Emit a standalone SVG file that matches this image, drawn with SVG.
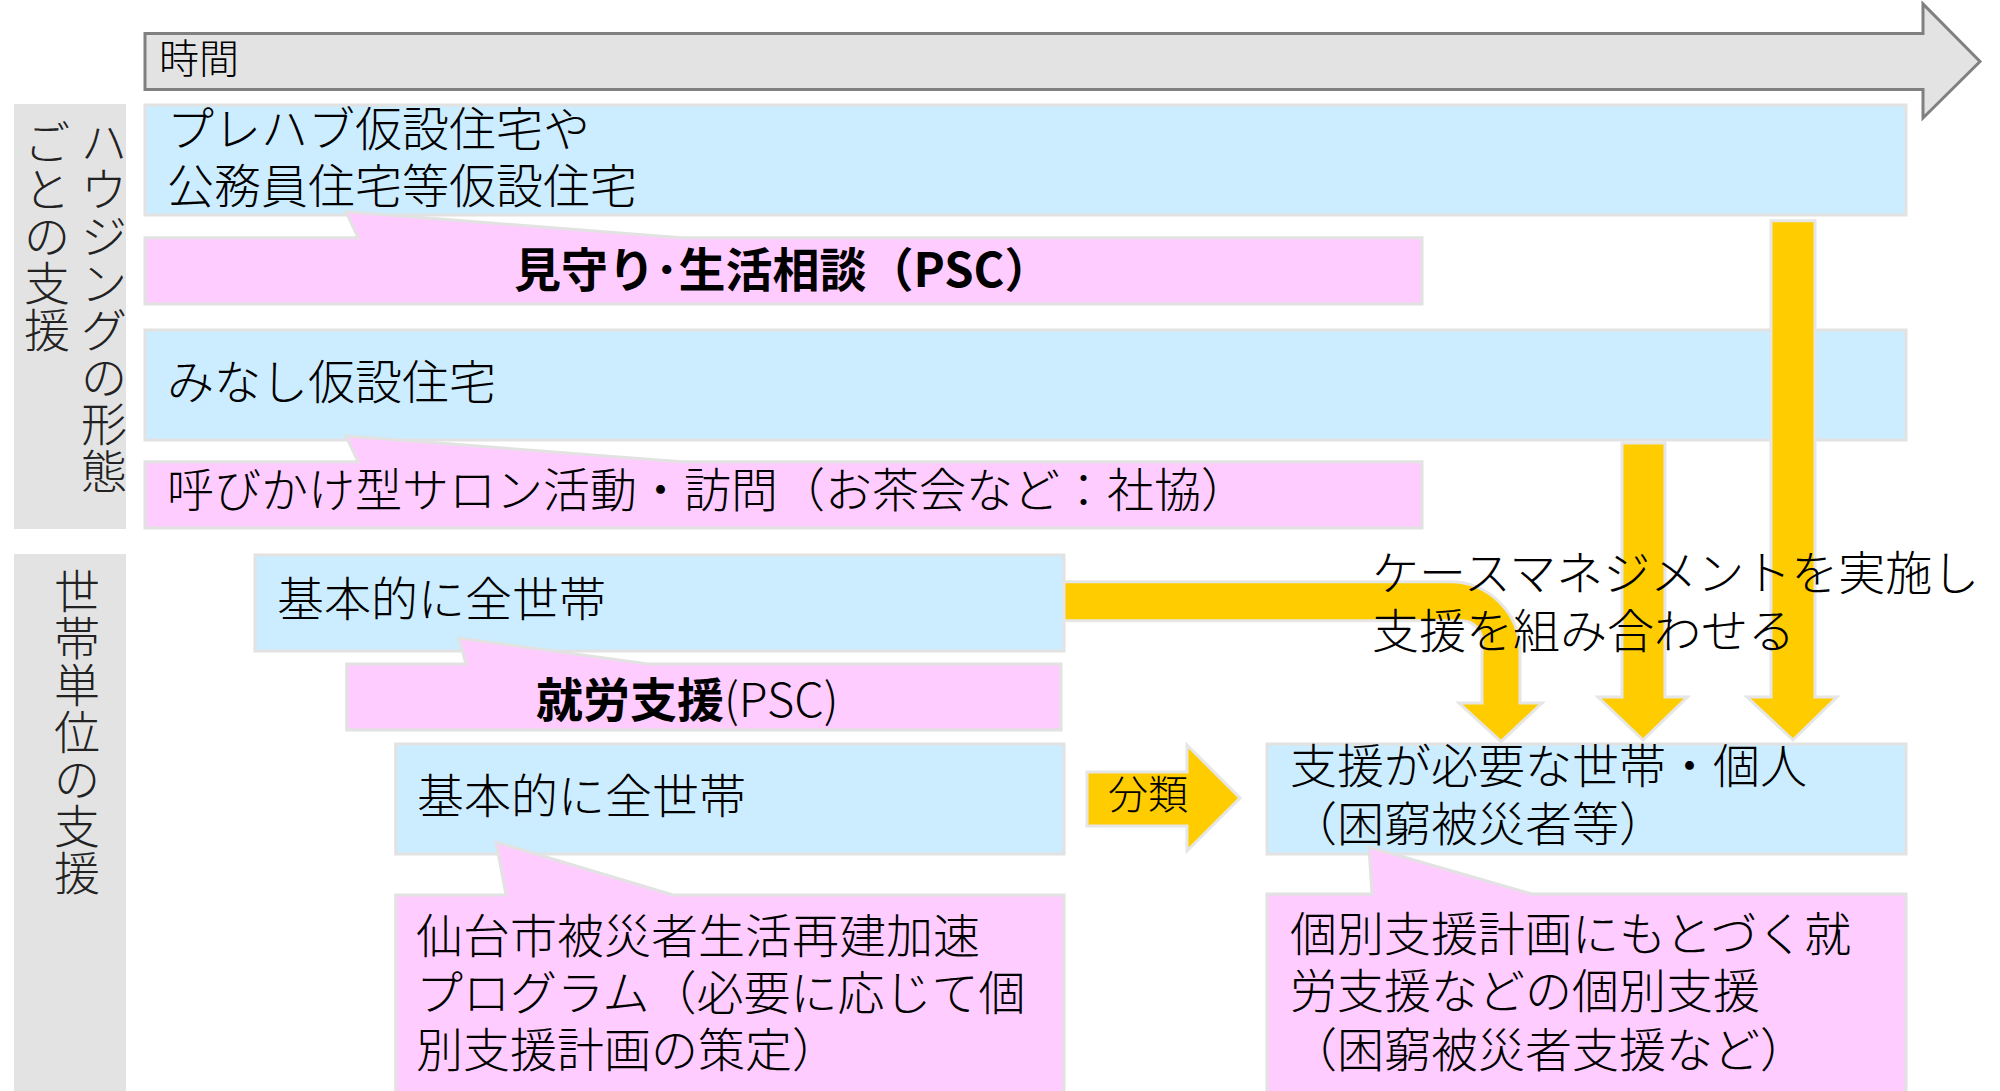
<svg xmlns="http://www.w3.org/2000/svg" width="2000" height="1091" viewBox="0 0 2000 1091">
<style>
text { font-family: "Noto Sans CJK JP", "Noto Sans", sans-serif; fill: #000; font-weight: 300; }
.t { font-size: 47px; }
.b { font-weight: bold; }
.v { font-size: 46px; text-anchor: middle; fill: #222; }
.blue { fill: #CCECFF; stroke: #E2E2E2; stroke-width: 3; }
.pink { fill: #FFCCFF; stroke: #E2E2E2; stroke-width: 3; }
.side { fill: #E3E3E3; }
.yel { fill: #FFCC00; stroke: #E6E6E6; stroke-width: 3; stroke-linejoin: miter; }
</style>
<rect width="2000" height="1091" fill="#fff"/>

<g id="side-housing">
  <rect class="side" x="14" y="104" width="112" height="425"/>
  <text class="v">
    <tspan x="104" y="159">ハ</tspan><tspan x="104" y="206">ウ</tspan><tspan x="104" y="253">ジ</tspan><tspan x="104" y="300">ン</tspan><tspan x="104" y="347">グ</tspan><tspan x="104" y="394">の</tspan><tspan x="104" y="441">形</tspan><tspan x="104" y="488">態</tspan><tspan x="47" y="159">ご</tspan><tspan x="47" y="206">と</tspan><tspan x="47" y="253">の</tspan><tspan x="47" y="300">支</tspan><tspan x="47" y="347">援</tspan>
  </text>
</g>

<g id="side-household">
  <rect class="side" x="14" y="554" width="112" height="545"/>
  <text class="v">
    <tspan x="77" y="608">世</tspan><tspan x="77" y="655">帯</tspan><tspan x="77" y="702">単</tspan><tspan x="77" y="749">位</tspan><tspan x="77" y="796">の</tspan><tspan x="77" y="843">支</tspan><tspan x="77" y="890">援</tspan>
  </text>
</g>

<g id="time-arrow">
  <path d="M145,33.5 L1923,33.5 L1923,4 L1980,61.5 L1923,118 L1923,89.5 L145,89.5 Z" fill="#E3E3E3" stroke="#808080" stroke-width="3"/>
  <text x="159" y="73" style="font-size:40px">時間</text>
</g>

<g id="prefab">
  <rect class="blue" x="145" y="105" width="1761" height="110"/>
  <text class="t" x="167" y="146">プレハブ仮設住宅や</text>
  <text class="t" x="167" y="203">公務員住宅等仮設住宅</text>
</g>

<g id="psc-watch">
  <path class="pink" d="M145,237.7 L358,237.7 L346,211.7 L681,237.7 L1422,237.7 L1422,304 L145,304 Z"/>
  <text class="t b" x="514" y="287">見守り･生活相談（PSC）</text>
</g>

<g id="minashi">
  <rect class="blue" x="145" y="330" width="1761" height="110"/>
  <text class="t" x="167" y="399">みなし仮設住宅</text>
</g>

<g id="salon">
  <path class="pink" d="M145,461.7 L358,461.7 L346,436 L681,461.7 L1422,461.7 L1422,528 L145,528 Z"/>
  <text class="t" x="167" y="507">呼びかけ型サロン活動・訪問（お茶会など：社協）</text>
</g>

<g id="all-households-1">
  <rect class="blue" x="255" y="555" width="809" height="96"/>
  <text class="t" x="277" y="616">基本的に全世帯</text>
</g>

<g id="employment-psc">
  <path class="pink" d="M346.7,664 L466,664 L459,638 L648,664 L1061,664 L1061,730 L346.7,730 Z"/>
  <text class="t" x="536" y="717"><tspan class="b">就労支援</tspan>(PSC)</text>
</g>

<g id="all-households-2">
  <rect class="blue" x="395.7" y="744" width="668.3" height="110"/>
  <text class="t" x="417" y="813">基本的に全世帯</text>
</g>

<g id="sendai-program">
  <path class="pink" d="M395.7,895 L506,895 L496,842 L673,895 L1064,895 L1064,1100 L395.7,1100 Z"/>
  <text class="t" x="416" y="953">仙台市被災者生活再建加速</text>
  <text class="t" x="416" y="1010">プログラム（必要に応じて個</text>
  <text class="t" x="416" y="1067">別支援計画の策定）</text>
</g>

<g id="needs-support">
  <rect class="blue" x="1267" y="744" width="639" height="110"/>
  <text class="t" x="1290" y="783">支援が必要な世帯・個人</text>
  <text class="t" x="1290" y="841">（困窮被災者等）</text>
</g>

<g id="individual-support">
  <path class="pink" d="M1267,894 L1372,894 L1369,847 L1532,894 L1906,894 L1906,1100 L1267,1100 Z"/>
  <text class="t" x="1290" y="951">個別支援計画にもとづく就</text>
  <text class="t" x="1290" y="1008">労支援などの個別支援</text>
  <text class="t" x="1290" y="1067">（困窮被災者支援など）</text>
</g>

<g id="connectors">
  <path class="yel" d="M1771,220.7 L1815,220.7 L1815,697 L1837,697 L1793,740 L1747,697 L1771,697 Z"/>
  <path class="yel" d="M1622,443 L1665,443 L1665,697 L1687.5,697 L1643,740 L1598,697 L1622,697 Z"/>
  <path class="yel" d="M1064,581.7 L1450,581.7 A70,70 0 0 1 1520,651.7 L1520,703 L1542,703 L1501,741.7 L1459,703 L1482,703 L1482,640.7 A20,20 0 0 0 1462,620.7 L1064,620.7 Z"/>
  <g id="classify">
    <path class="yel" d="M1087,772 L1187,772 L1187,745 L1240,798 L1187,851 L1187,826 L1087,826 Z"/>
    <text x="1108" y="809" style="font-size:40px">分類</text>
  </g>
</g>

<g id="case-management-label">
  <text class="t" x="1372" y="590">ケースマネジメントを実施し</text>
  <text class="t" x="1372" y="648">支援を組み合わせる</text>
</g>
</svg>
